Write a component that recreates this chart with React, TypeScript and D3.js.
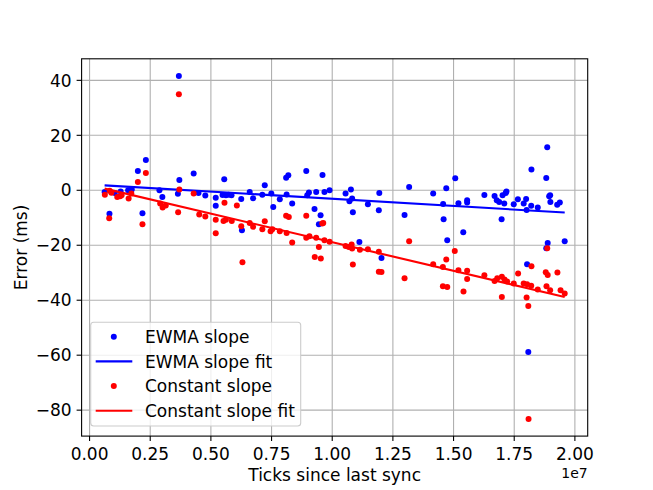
import * as d3 from "d3";

// x values are in units of 1e7 ticks (matplotlib offset text "1e7")
const ewmaTicks = [
  0.062, 0.082, 0.104, 0.128, 0.159, 0.174, 0.199, 0.232, 0.218, 0.288,
  0.3, 0.368, 0.37, 0.364, 0.429, 0.449, 0.477, 0.52, 0.52, 0.555,
  0.548, 0.562, 0.573, 0.585, 0.625, 0.628, 0.66, 0.674, 0.712, 0.722,
  0.749, 0.757, 0.784, 0.812, 0.81, 0.819, 0.835, 0.893, 0.897, 0.904,
  0.934, 0.927, 0.952, 0.945, 0.96, 0.968, 0.989, 1.055, 1.077, 1.071,
  1.082, 1.085, 1.112, 1.147, 1.194, 1.192, 1.203, 1.298, 1.317, 1.416,
  1.47, 1.457, 1.459, 1.474, 1.507, 1.52, 1.54, 1.556, 1.556, 1.627,
  1.669, 1.678, 1.702, 1.715, 1.718, 1.688, 1.709, 1.698, 1.748, 1.765,
  1.789, 1.799, 1.801, 1.82, 1.847, 1.821, 1.886, 1.882, 1.894, 1.899,
  1.898, 1.927, 1.938, 1.958, 1.888, 1.882, 1.803, 1.808,
];
const ewmaErr = [
  -0.6, -8.5, -1.0, -0.4, 0.0, 0.3, 7.0, 11.0, -8.4, 0.0,
  -2.4, 41.6, 3.7, -1.3, 6.1, -1.0, -1.9, -2.7, -5.6, 4.0,
  -1.7, -1.8, -1.6, -1.8, -3.2, -14.5, -0.6, -2.9, -1.6, 1.8,
  -1.2, -6.1, -3.3, -1.5, 4.6, 5.5, -4.8, 7.0, -1.8, -0.8,
  -0.6, -6.8, -9.1, -12.4, 5.6, -0.6, 0.0, -1.2, 0.3, -4.0,
  -3.0, -8.0, -18.8, -5.1, -1.0, -7.3, -24.6, -9.0, 1.2, -1.2,
  0.7, -5.0, -10.5, -18.2, 4.4, -4.7, -15.3, -3.6, -4.4, -1.7,
  -2.1, -3.6, -1.8, -1.0, -0.4, -4.3, -4.8, -10.5, -5.1, -3.3,
  -4.8, -3.2, -7.2, -5.6, -6.3, 7.6, 15.7, 4.5, -2.2, -4.3,
  -1.8, -5.3, -4.4, -18.5, -19.2, -21.1, -26.9, -58.8,
];

const constTicks = [
  0.063, 0.081, 0.083, 0.09, 0.114, 0.126, 0.132, 0.161, 0.172, 0.199,
  0.232, 0.218, 0.291, 0.301, 0.314, 0.368, 0.37, 0.365, 0.429, 0.452,
  0.477, 0.52, 0.52, 0.556, 0.552, 0.562, 0.586, 0.607, 0.625, 0.63,
  0.66, 0.674, 0.712, 0.722, 0.746, 0.753, 0.784, 0.812, 0.835, 0.81,
  0.821, 0.893, 0.893, 0.906, 0.928, 0.934, 0.945, 0.953, 0.959, 0.963,
  0.968, 0.989, 1.055, 1.068, 1.08, 1.082, 1.085, 1.114, 1.147, 1.192,
  1.192, 1.203, 1.298, 1.317, 1.416, 1.456, 1.47, 1.505, 1.456, 1.474,
  1.52, 1.541, 1.556, 1.556, 1.627, 1.669, 1.68, 1.699, 1.71, 1.721,
  1.699, 1.748, 1.766, 1.789, 1.803, 1.82, 1.801, 1.808, 1.821, 1.847,
  1.88, 1.888, 1.883, 1.898, 1.886, 1.928, 1.941, 1.958, 1.809,
];
const constErr = [
  -1.6, -10.2, -0.2, -0.9, -2.4, -2.2, -1.8, -3.0, -1.2, 3.0,
  6.3, -12.4, -4.8, -6.3, -5.5, 34.9, 0.3, -8.0, -1.2, -8.8,
  -9.5, -10.7, -15.6, -4.5, -11.2, -10.7, -11.2, -5.5, -13.1, -26.2,
  -11.9, -13.3, -14.2, -11.3, -14.9, -14.2, -14.9, -15.5, -19.0, -9.3,
  -9.7, -9.3, -17.3, -16.7, -24.3, -17.3, -20.6, -24.8, -12.1, -11.9,
  -18.2, -18.7, -20.3, -20.6, -19.7, -21.2, -27.0, -21.6, -21.5, -22.4,
  -29.6, -29.7, -32.0, -18.5, -26.9, -27.9, -25.2, -22.1, -34.9, -35.2,
  -29.1, -36.8, -29.3, -32.3, -30.9, -33.0, -32.0, -31.5, -32.5, -33.2,
  -38.8, -33.9, -30.3, -33.9, -34.2, -34.7, -39.0, -42.1, -27.6, -36.1,
  -29.8, -30.8, -34.9, -36.4, -21.1, -29.9, -36.4, -37.6, -83.2,
];

// fit line end values (at first and last tick of the data)
const ewmaFitErr = [1.8, -8.1];
const constFitErr = [0.6, -38.8];

const xTicks = [0, 0.25, 0.5, 0.75, 1.0, 1.25, 1.5, 1.75, 2.0];
const yTicks = [-80, -60, -40, -20, 0, 20, 40];
const legendLabels = ["EWMA slope", "EWMA slope fit", "Constant slope", "Constant slope fit"];

const W = 653;
const H = 490;
const box = { left: 81.6, right: 587.7, top: 58.8, bottom: 436.1 };
const FONT = "DejaVu Sans, sans-serif";
const BLUE = "#0000ff";
const RED = "#ff0000";

// matplotlib-style 5% margins
const padded = (vals: number[]) => {
  const [lo, hi] = d3.extent(vals) as [number, number];
  const m = (hi - lo) * 0.05;
  return [lo - m, hi + m];
};

export default function App() {
  const allX = [...ewmaTicks, ...constTicks];
  const allY = [...ewmaErr, ...constErr];
  const x = d3.scaleLinear().domain(padded(allX)).range([box.left, box.right]);
  const y = d3.scaleLinear().domain(padded(allY)).range([box.bottom, box.top]);
  const fitX = d3.extent(allX) as [number, number];

  const line = d3
    .line<[number, number]>()
    .x((d) => x(d[0]))
    .y((d) => y(d[1]));

  const ewmaFit = fitX.map((t, i) => [t, ewmaFitErr[i]] as [number, number]);
  const constFit = fitX.map((t, i) => [t, constFitErr[i]] as [number, number]);

  const fmtY = (v: number) => (v < 0 ? "\u2212" + Math.abs(v) : String(v));

  const legend = { x: 90.7, y: 322.3, w: 210, h: 103.7 };
  const rowY = (i: number) => legend.y + 14.4 + i * 24.7;

  return (
    <div style={{ position: "absolute", left: 0, top: 0 }}>
      <svg width={W} height={H} fontFamily={FONT}>
        <rect width={W} height={H} fill="#ffffff" />

        {/* grid */}
        <g stroke="#b0b0b0" strokeWidth={1.1}>
          {xTicks.map((t) => (
            <line key={"gx" + t} x1={x(t)} x2={x(t)} y1={box.top} y2={box.bottom} />
          ))}
          {yTicks.map((t) => (
            <line key={"gy" + t} x1={box.left} x2={box.right} y1={y(t)} y2={y(t)} />
          ))}
        </g>

        {/* series */}
        <g fill={BLUE}>
          {ewmaTicks.map((t, i) => (
            <circle key={"b" + i} cx={x(t)} cy={y(ewmaErr[i])} r={3} />
          ))}
        </g>
        <path d={line(ewmaFit) ?? ""} fill="none" stroke={BLUE} strokeWidth={2.1} />
        <g fill={RED}>
          {constTicks.map((t, i) => (
            <circle key={"r" + i} cx={x(t)} cy={y(constErr[i])} r={3} />
          ))}
        </g>
        <path d={line(constFit) ?? ""} fill="none" stroke={RED} strokeWidth={2.1} />

        {/* spines */}
        <rect
          x={box.left}
          y={box.top}
          width={box.right - box.left}
          height={box.bottom - box.top}
          fill="none"
          stroke="#000"
          strokeWidth={1.1}
        />

        {/* x axis */}
        <g fontSize={17} fill="#000" textAnchor="middle">
          {xTicks.map((t) => (
            <g key={"xt" + t}>
              <line x1={x(t)} x2={x(t)} y1={box.bottom} y2={box.bottom + 5} stroke="#000" strokeWidth={1.1} />
              <text x={x(t)} y={box.bottom + 24}>
                {t.toFixed(2)}
              </text>
            </g>
          ))}
        </g>
        <text x={box.right} y={478} fontSize={14} textAnchor="end">
          1e7
        </text>
        <text x={(box.left + box.right) / 2} y={480.5} fontSize={17} textAnchor="middle">
          Ticks since last sync
        </text>

        {/* y axis */}
        <g fontSize={17} fill="#000" textAnchor="end">
          {yTicks.map((t) => (
            <g key={"yt" + t}>
              <line x1={box.left - 5} x2={box.left} y1={y(t)} y2={y(t)} stroke="#000" strokeWidth={1.1} />
              <text x={box.left - 10} y={y(t) + 6.2}>
                {fmtY(t)}
              </text>
            </g>
          ))}
        </g>
        <text
          transform={`translate(27,${(box.top + box.bottom) / 2}) rotate(-90)`}
          fontSize={17}
          textAnchor="middle"
        >
          Error (ms)
        </text>

        {/* legend */}
        <rect
          x={legend.x}
          y={legend.y}
          width={legend.w}
          height={legend.h}
          rx={3}
          fill="#ffffff"
          fillOpacity={0.8}
          stroke="#cccccc"
          strokeWidth={1.1}
        />
        {legendLabels.map((label, i) => {
          const color = i < 2 ? BLUE : RED;
          const cy = rowY(i);
          return (
            <g key={label}>
              {i % 2 === 0 ? (
                <circle cx={113.8} cy={cy} r={3} fill={color} />
              ) : (
                <line x1={95.7} x2={132.3} y1={cy} y2={cy} stroke={color} strokeWidth={2.1} />
              )}
              <text x={145} y={cy + 6.2} fontSize={17}>
                {label}
              </text>
            </g>
          );
        })}
      </svg>
    </div>
  );
}
